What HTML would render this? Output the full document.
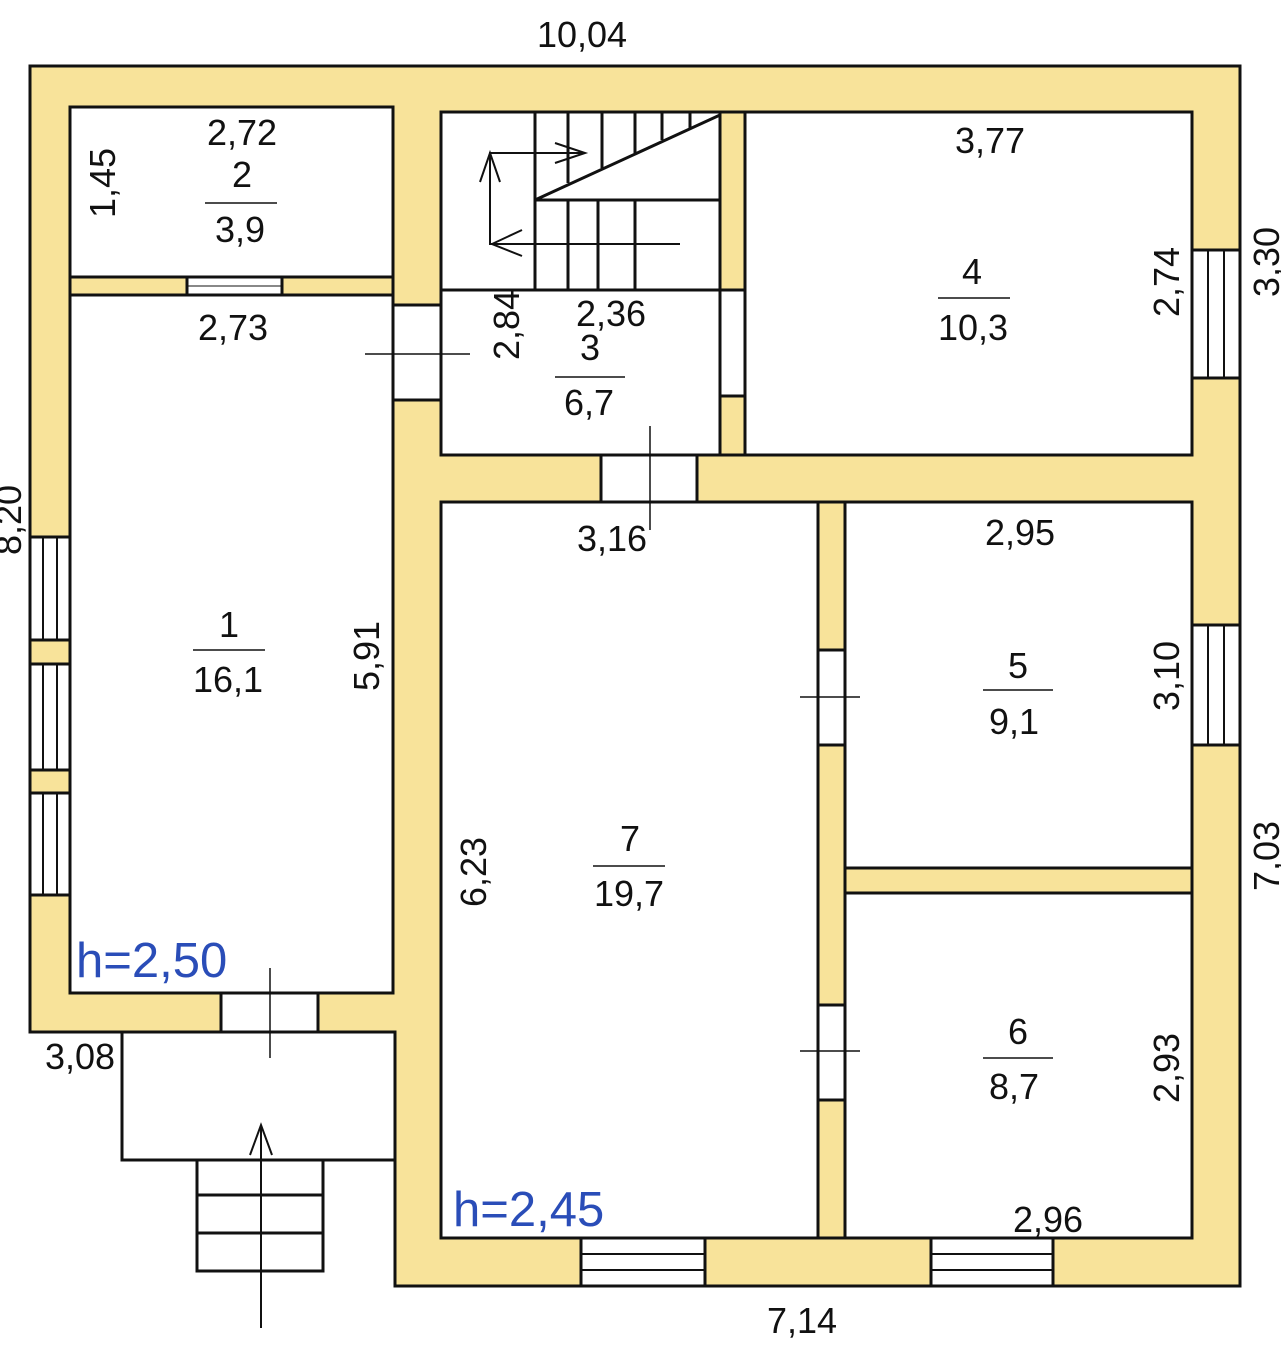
<!DOCTYPE html>
<html><head><meta charset="utf-8"><style>
html,body{margin:0;padding:0;background:#fff;}
svg{display:block;}
text{font-family:"Liberation Sans",sans-serif;font-size:36px;fill:#111;}
</style></head><body>
<svg width="1281" height="1358" viewBox="0 0 1281 1358" xmlns="http://www.w3.org/2000/svg">
<g stroke="#111" stroke-width="3" fill="#f8e39a">
<polygon points="30,66 1240,66 1240,1286 395,1286 395,1032 30,1032"/>
</g>
<g stroke="#111" stroke-width="3" fill="#fff">
<rect x="70" y="107" width="323" height="170"/>
<rect x="70" y="295" width="323" height="698"/>
<rect x="441" y="112" width="279" height="343"/>
<rect x="745" y="112" width="447" height="343"/>
<rect x="441" y="502" width="377" height="736"/>
<rect x="845" y="502" width="347" height="366"/>
<rect x="845" y="893" width="347" height="345"/>
</g>
<g stroke="#111" stroke-width="3">
<rect x="70" y="277" width="323" height="18" fill="#f8e39a"/>
<rect x="187" y="277" width="95" height="18" fill="#fff"/>
<line x1="187" y1="286" x2="282" y2="286" stroke-width="1"/>
</g>
<g stroke="#111" stroke-width="3" fill="#fff">
<rect x="393" y="305" width="48" height="95"/>
<rect x="720" y="290" width="25" height="106"/>
<rect x="601" y="455" width="96" height="47"/>
<rect x="818" y="650" width="27" height="95"/>
<rect x="818" y="1005" width="27" height="95"/>
<rect x="221" y="993" width="97" height="39"/>
<rect x="30" y="537" width="40" height="103"/>
<rect x="30" y="664" width="40" height="106"/>
<rect x="30" y="793" width="40" height="102"/>
<rect x="1192" y="250" width="48" height="128"/>
<rect x="1192" y="625" width="48" height="120"/>
<rect x="581" y="1238" width="124" height="48"/>
<rect x="931" y="1238" width="122" height="48"/>
</g>
<g stroke="#111" stroke-width="2">
<line x1="43" y1="537" x2="43" y2="895"/><line x1="57" y1="537" x2="57" y2="895"/>
<line x1="1208" y1="250" x2="1208" y2="378"/><line x1="1224" y1="250" x2="1224" y2="378"/>
<line x1="1208" y1="625" x2="1208" y2="745"/><line x1="1224" y1="625" x2="1224" y2="745"/>
<line x1="581" y1="1254" x2="705" y2="1254"/><line x1="581" y1="1270" x2="705" y2="1270"/>
<line x1="931" y1="1254" x2="1053" y2="1254"/><line x1="931" y1="1270" x2="1053" y2="1270"/>
</g>
<g stroke="#111" stroke-width="3" fill="#f8e39a">
<rect x="30" y="640" width="40" height="24"/>
<rect x="30" y="770" width="40" height="23"/>
<rect x="845" y="868" width="347" height="25"/>
<rect x="818" y="502" width="27" height="148"/>
<rect x="818" y="745" width="27" height="260"/>
<rect x="818" y="1100" width="27" height="138"/>
<rect x="720" y="112" width="25" height="178"/>
<rect x="720" y="396" width="25" height="59"/>
</g>
<g stroke="#111" stroke-width="3" fill="none">
<line x1="441" y1="290" x2="745" y2="290"/>
<line x1="535" y1="112" x2="535" y2="290"/>
<line x1="535" y1="200" x2="720" y2="200"/>
<line x1="535" y1="200" x2="720" y2="115"/>
<line x1="568" y1="112" x2="568" y2="183"/>
<line x1="602" y1="112" x2="602" y2="168"/>
<line x1="635" y1="112" x2="635" y2="153"/>
<line x1="662" y1="112" x2="662" y2="140"/>
<line x1="690" y1="112" x2="690" y2="128"/>
<line x1="568" y1="200" x2="568" y2="290"/>
<line x1="598" y1="200" x2="598" y2="290"/>
<line x1="635" y1="200" x2="635" y2="290"/>
</g>
<g stroke="#111" stroke-width="2" fill="none">
<polyline points="490,245 490,153 585,153"/>
<polyline points="480,182 490,153 500,182"/>
<polyline points="555,143 585,153 555,163"/>
<line x1="490" y1="244" x2="680" y2="244"/>
<polyline points="522,230 492,244 522,256"/>
<line x1="365" y1="354" x2="470" y2="354" stroke-width="1.5"/>
<line x1="650" y1="426" x2="650" y2="530" stroke-width="1.5"/>
<line x1="800" y1="697" x2="860" y2="697" stroke-width="1.5"/>
<line x1="800" y1="1051" x2="860" y2="1051" stroke-width="1.5"/>
<line x1="270" y1="968" x2="270" y2="1058" stroke-width="1.5"/>
</g>
<g stroke="#111" stroke-width="3" fill="none">
<polyline points="122,1032 122,1160 395,1160"/>
<rect x="197" y="1160" width="126" height="111"/>
<line x1="197" y1="1195" x2="323" y2="1195"/>
<line x1="197" y1="1233" x2="323" y2="1233"/>
<line x1="261" y1="1125" x2="261" y2="1328" stroke-width="2"/>
<polyline points="250,1155 261,1125 272,1155" stroke-width="2"/>
</g>
<g stroke="#111" stroke-width="1.5">
<line x1="205" y1="203" x2="277" y2="203"/>
<line x1="555" y1="377" x2="625" y2="377"/>
<line x1="938" y1="298" x2="1010" y2="298"/>
<line x1="193" y1="650" x2="265" y2="650"/>
<line x1="983" y1="690" x2="1053" y2="690"/>
<line x1="593" y1="866" x2="665" y2="866"/>
<line x1="983" y1="1058" x2="1053" y2="1058"/>
</g>
<g text-anchor="middle">
<text x="582" y="47">10,04</text>
<text x="242" y="145">2,72</text>
<text x="242" y="187">2</text>
<text x="240" y="242">3,9</text>
<text x="233" y="340">2,73</text>
<text x="611" y="326">2,36</text>
<text x="590" y="360">3</text>
<text x="589" y="415">6,7</text>
<text x="990" y="153">3,77</text>
<text x="972" y="284">4</text>
<text x="973" y="340">10,3</text>
<text x="612" y="551">3,16</text>
<text x="1020" y="545">2,95</text>
<text x="229" y="637">1</text>
<text x="228" y="692">16,1</text>
<text x="1018" y="678">5</text>
<text x="1014" y="734">9,1</text>
<text x="630" y="851">7</text>
<text x="629" y="906">19,7</text>
<text x="1018" y="1044">6</text>
<text x="1014" y="1099">8,7</text>
<text x="1048" y="1232">2,96</text>
<text x="802" y="1333">7,14</text>
<text x="80" y="1069">3,08</text>
</g>
<text x="76" y="977" style="fill:#2a4db8;font-size:49px">h=2,50</text>
<text x="453" y="1226" style="fill:#2a4db8;font-size:49px">h=2,45</text>
<g text-anchor="middle">
<text transform="translate(115,183) rotate(-90)">1,45</text>
<text transform="translate(519,325) rotate(-90)">2,84</text>
<text transform="translate(1179,282) rotate(-90)">2,74</text>
<text transform="translate(1279,262) rotate(-90)">3,30</text>
<text transform="translate(21,520) rotate(-90)">8,20</text>
<text transform="translate(379,656) rotate(-90)">5,91</text>
<text transform="translate(1179,676) rotate(-90)">3,10</text>
<text transform="translate(1279,856) rotate(-90)">7,03</text>
<text transform="translate(486,872) rotate(-90)">6,23</text>
<text transform="translate(1179,1068) rotate(-90)">2,93</text>
</g>
</svg>
</body></html>
